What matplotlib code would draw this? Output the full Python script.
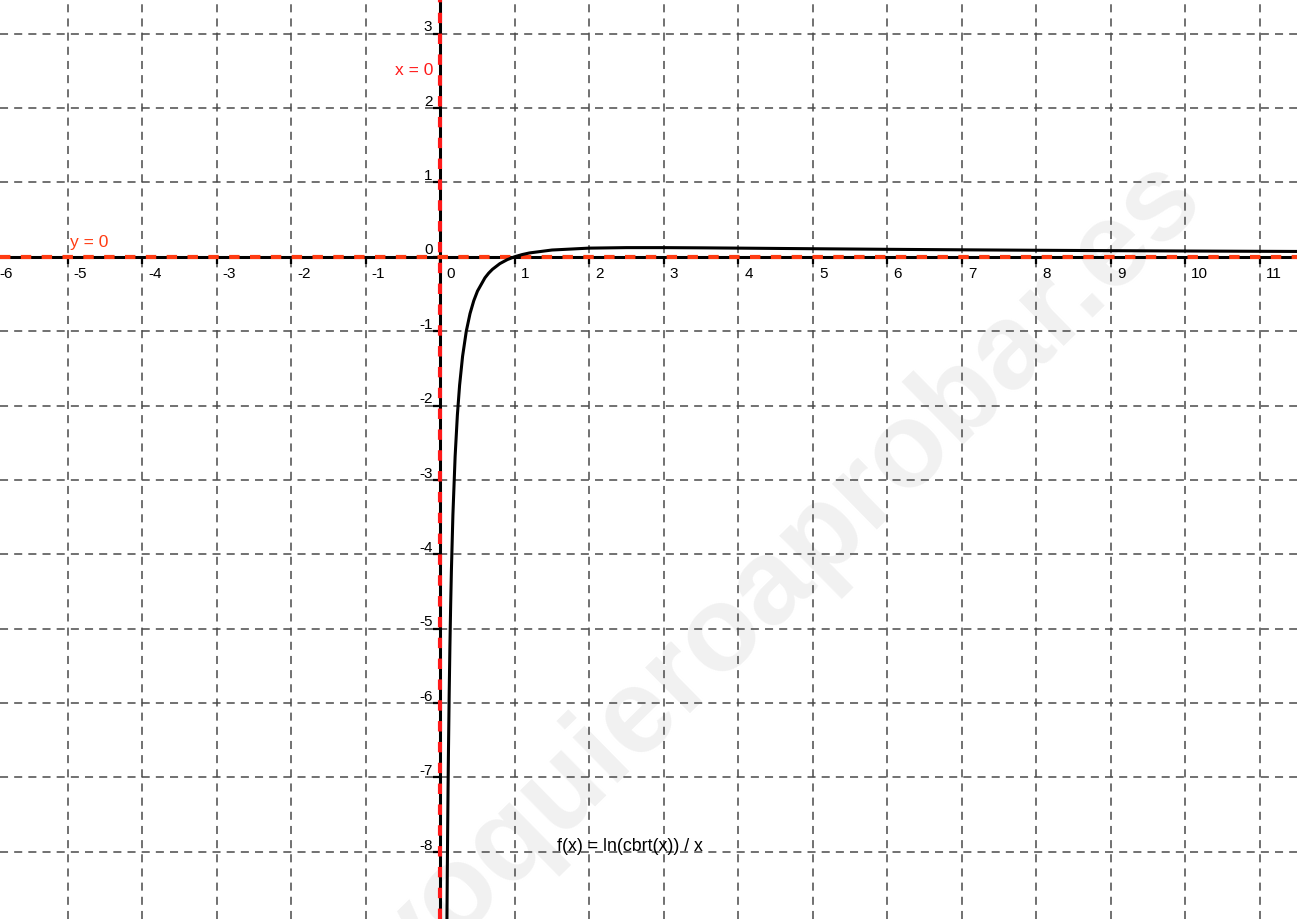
import matplotlib.pyplot as plt

plt.rcParams['font.family'] = ['Liberation Sans', 'DejaVu Sans']
plt.rcParams['lines.scale_dashes'] = False

# f(x) = ln(cbrt(x)) / x
curve_x = [0.09, 0.095, 0.1, 0.105, 0.11, 0.12, 0.13, 0.14, 0.15, 0.17, 0.2, 0.23,
           0.26, 0.3, 0.35, 0.4, 0.45, 0.5, 0.6, 0.65, 0.7, 0.8, 0.9, 1.0, 1.1, 1.2,
           1.5, 2, 2.5, 3, 3.5, 4, 5, 6, 7, 8, 9, 10, 11, 11.6]
curve_y = [-8.918, -8.259, -7.675, -7.155, -6.689, -5.890, -5.231, -4.681, -4.216,
           -3.474, -2.682, -2.130, -1.727, -1.338, -1.000, -0.764, -0.592, -0.462,
           -0.284, -0.221, -0.170, -0.093, -0.039, 0.0, 0.029, 0.051, 0.090, 0.1155,
           0.1222, 0.1221, 0.1193, 0.1155, 0.1073, 0.0995, 0.0927, 0.0866, 0.0814,
           0.0768, 0.0727, 0.0704]

x_ticks = list(range(-6, 12))
y_ticks = list(range(-8, 4))

x_min, x_max = -5.909, 11.5
y_min, y_max = -8.902, 3.464

fig = plt.figure(figsize=(12.97, 9.20), dpi=100)
ax = fig.add_axes([0, 0, 1, 1])
ax.set_xlim(x_min, x_max)
ax.set_ylim(y_min, y_max)
ax.axis('off')

# watermark, under the grid
ax.text(0.605, 0.375, 'yoquieroaprobar.es', transform=ax.transAxes, fontsize=87,
        fontweight='bold', color='#f1f1f1', rotation=44.5, ha='center', va='center',
        zorder=0.5)

# dashed grid
for gx in x_ticks:
    ax.axvline(gx, color='#4a4a4a', lw=1.1, linestyle=(0, (5.8, 4.4)), zorder=1)
for gy in y_ticks:
    ax.axhline(gy, color='#4a4a4a', lw=1.1, linestyle=(0, (5.8, 4.4)), zorder=1)

# axes
ax.axhline(0, color='black', lw=2.2, zorder=2)
ax.axvline(0, color='black', lw=2.2, zorder=2)
ax.plot(x_ticks, [0] * len(x_ticks), linestyle='none', marker=3, ms=5, mew=1.6,
        color='black', zorder=2, clip_on=False)
ax.plot([0] * len(y_ticks), y_ticks, linestyle='none', marker=0, ms=5, mew=1.6,
        color='black', zorder=2)

# asymptotes
ax.axhline(0, color='#ff3b12', lw=3.0, linestyle=(0, (7.5, 7.5)), zorder=3)
ax.axvline(0, color='#ff1a1a', lw=3.0, linestyle=(0, (7.5, 7.5)), zorder=3)

# tick labels
for t in x_ticks:
    ax.annotate(str(t), (t, 0), xytext=(4.4, -6.8), textcoords='offset points',
                ha='left', va='top', fontsize=11, zorder=4, annotation_clip=False)
for t in y_ticks:
    ax.annotate(str(t), (0, t), xytext=(-5.6, 2.4), textcoords='offset points',
                ha='right', va='baseline', fontsize=11, zorder=4)

# curve
ax.plot(curve_x, curve_y, color='black', lw=2.2, solid_joinstyle='round', zorder=5)

ax.text(-0.607, 2.523, 'x = 0', color='#ff1a1a', fontsize=12.5, ha='left',
        va='center', zorder=6)
ax.text(-4.969, 0.198, 'y = 0', color='#ff3b12', fontsize=12.5, ha='left',
        va='center', zorder=6)
ax.text(1.565, -7.92, 'f(x) = ln(cbrt(x)) / x', color='black', fontsize=12.8,
        ha='left', va='center', zorder=6)

fig.savefig('out.png', dpi=100)
